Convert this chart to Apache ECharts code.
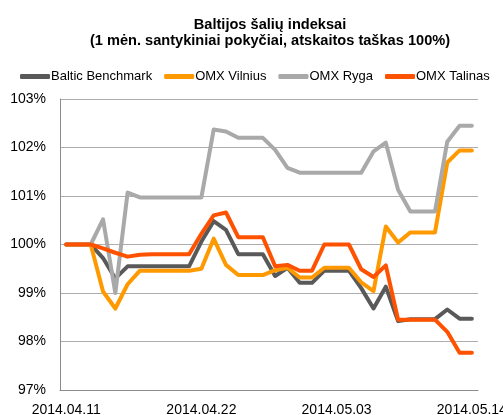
<!DOCTYPE html>
<html>
<head>
<meta charset="utf-8">
<script src="https://cdn.jsdelivr.net/npm/echarts@6/dist/echarts.min.js"></script>
<style>
html,body{margin:0;padding:0;background:#fff;}
#c{width:503px;height:415px;}
</style>
</head>
<body>
<div id="c"></div>
<script>
var categories = [
 '2014.04.11','2014.04.12','2014.04.13','2014.04.14','2014.04.15','2014.04.16','2014.04.17','2014.04.18','2014.04.19','2014.04.20',
 '2014.04.21','2014.04.22','2014.04.23','2014.04.24','2014.04.25','2014.04.26','2014.04.27','2014.04.28','2014.04.29','2014.04.30',
 '2014.05.01','2014.05.02','2014.05.03','2014.05.04','2014.05.05','2014.05.06','2014.05.07','2014.05.08','2014.05.09','2014.05.10',
 '2014.05.11','2014.05.12','2014.05.13','2014.05.14'
];
var balticBenchmark = [100,100,100,99.72,99.3,99.55,99.55,99.55,99.55,99.55,99.55,100.06,100.48,100.3,99.8,99.8,99.8,99.35,99.52,99.21,99.21,99.46,99.46,99.46,99.1,98.68,99.13,98.42,98.46,98.46,98.46,98.66,98.47,98.47];
var omxVilnius = [100,100,100,99.03,98.68,99.18,99.46,99.46,99.46,99.46,99.46,99.5,100.12,99.58,99.37,99.37,99.37,99.47,99.52,99.32,99.32,99.52,99.52,99.52,99.22,99.04,100.37,100.04,100.25,100.25,100.25,101.69,101.94,101.94];
var omxRyga = [100,100,100,100.52,99.0,101.07,100.97,100.97,100.97,100.97,100.97,100.97,102.37,102.33,102.2,102.2,102.2,101.95,101.58,101.48,101.48,101.48,101.48,101.48,101.48,101.92,102.1,101.13,100.68,100.68,100.68,102.12,102.45,102.45];
var omxTalinas = [100,100,100,99.92,99.83,99.75,99.79,99.8,99.8,99.8,99.8,100.22,100.6,100.66,100.15,100.15,100.15,99.55,99.58,99.46,99.46,100.0,100.0,100.0,99.49,99.33,99.57,98.45,98.45,98.45,98.45,98.2,97.77,97.77];
var seriesNames = ['Baltic Benchmark','OMX Vilnius','OMX Ryga','OMX Talinas'];
var titleText = 'Baltijos šalių indeksai\n(1 mėn. santykiniai pokyčiai, atskaitos taškas 100%)';
var yTicks = {min:97, max:103, interval:1};

var colors = ['#595959','#FF9900','#A9A9A9','#FF5200'];
var font = 'Liberation Sans, Arial, sans-serif';
var chart = echarts.init(document.getElementById('c'), null, {renderer:'canvas'});
var data = [balticBenchmark, omxVilnius, omxRyga, omxTalinas];
chart.setOption({
  animation:false,
  color: colors,
  graphic:[{
    type:'text', x:270, y:17,
    style:{text:titleText, textAlign:'center', textVerticalAlign:'top',
      fontFamily:font, fontSize:14.6, fontWeight:'bold', fill:'#000', lineHeight:16}
  }],
  legend:{
    data: seriesNames,
    top:70, left:20, width:483, padding:0,
    itemWidth:30, itemHeight:5, itemGap:12,
    icon:'roundRect',
    textStyle:{fontFamily:font, fontSize:13, color:'#000', padding:[0,0,0,-4]}
  },
  grid:{left:60, right:25, top:99, bottom:25, containLabel:false, outerBoundsMode:'none'},
  xAxis:{
    type:'category', data:categories, boundaryGap:true,
    axisLine:{show:true, lineStyle:{color:'#8C8C8C', width:1}},
    axisTick:{show:false},
    axisLabel:{interval:10, fontFamily:font, fontSize:14, color:'#000', margin:13, showMaxLabel:true}
  },
  yAxis:{
    type:'value', min:yTicks.min, max:yTicks.max, interval:yTicks.interval,
    axisLine:{show:true, lineStyle:{color:'#8C8C8C', width:1}},
    axisTick:{show:false},
    splitLine:{lineStyle:{color:'#ADADAD', width:1}},
    axisLabel:{formatter:'{value}%', fontFamily:font, fontSize:14, color:'#000', margin:14}
  },
  series: seriesNames.map(function(n,i){
    return {name:n, type:'line', data:data[i], symbol:'none', smooth:false,
      lineStyle:{width:4, color:colors[i], join:'round', cap:'round'}};
  })
});
</script>
</body>
</html>
